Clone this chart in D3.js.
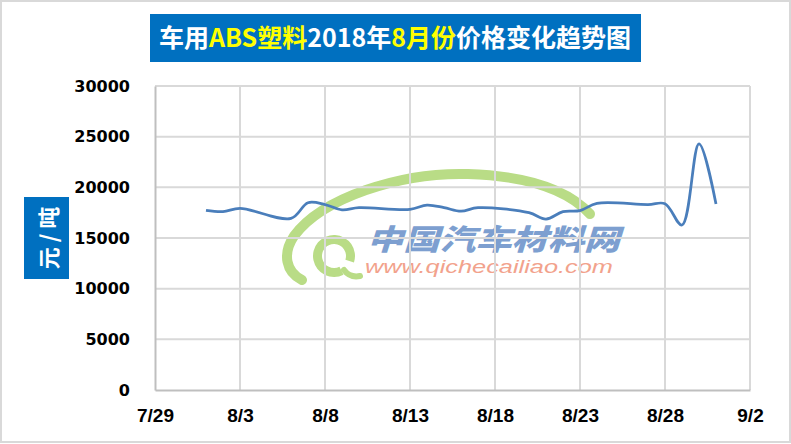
<!DOCTYPE html>
<html>
<head>
<meta charset="utf-8">
<script src="https://cdn.jsdelivr.net/npm/d3@7"></script>
<style>
  html, body { margin: 0; padding: 0; background: #ffffff; }
  svg { display: block; }
</style>
</head>
<body>
<svg id="chart" width="791" height="444"></svg>
<script>
// ---- data ----
const dates = ["2018-08-01","2018-08-02","2018-08-03","2018-08-06","2018-08-07","2018-08-08","2018-08-09","2018-08-10",
  "2018-08-13","2018-08-14","2018-08-15","2018-08-16","2018-08-17","2018-08-20","2018-08-21","2018-08-22",
  "2018-08-23","2018-08-24","2018-08-27","2018-08-28","2018-08-29","2018-08-30","2018-08-31"];
const prices = [17730,17600,17930,16940,18480,18300,17780,17990,
  17830,18250,18000,17640,17990,17500,16870,17600,
  17700,18420,18300,18380,16280,24300,18350];
const xTickDates = ["2018-07-29","2018-08-03","2018-08-08","2018-08-13","2018-08-18","2018-08-23","2018-08-28","2018-09-02"];
const yTicks = [0,5000,10000,15000,20000,25000,30000];
const titleParts = [
  {text: "车用", color: "#ffffff"},
  {text: "ABS塑料", color: "#ffff00"},
  {text: "2018年", color: "#ffffff"},
  {text: "8月份", color: "#ffff00"},
  {text: "价格变化趋势图", color: "#ffffff"}
];
const yAxisTitle = "元 / 吨";
const watermarkName = "中国汽车材料网";
const watermarkUrl = "www.qichecailiao.com";

// ---- layout ----
const W = 791, H = 444;
const plot = {left: 155, right: 750, top: 86, bottom: 390};
const parse = d3.timeParse("%Y-%m-%d");
const svg = d3.select("#chart");

// outer border
svg.append("rect").attr("x", 1).attr("y", 1).attr("width", W - 2).attr("height", H - 3)
  .attr("fill", "#ffffff").attr("stroke", "#d9d9d9").attr("stroke-width", 2);

const x = d3.scaleTime()
  .domain([parse(xTickDates[0]), parse(xTickDates[xTickDates.length - 1])])
  .range([plot.left, plot.right]);
const y = d3.scaleLinear().domain([0, 30000]).range([plot.bottom, plot.top]);

// ---- watermark (logo decoration) ----
const green = "#b9dc86";
const wm = svg.append("g");
wm.append("path")
  .attr("d", "M 590 214 C 568 190, 528 176, 468 174 C 400 172, 322 198, 294 236 C 282 254, 286 272, 302 280")
  .attr("fill", "none").attr("stroke", green).attr("stroke-width", 10).attr("stroke-linecap", "round");
wm.append("path")
  .attr("d", d3.arc().innerRadius(12).outerRadius(21)({startAngle: Math.PI * 0.85, endAngle: Math.PI * 2.6}))
  .attr("transform", "translate(334,256)")
  .attr("fill", green);
wm.append("path")
  .attr("d", "M 344 270 Q 350 278, 360 276")
  .attr("fill", "none").attr("stroke", green).attr("stroke-width", 6).attr("stroke-linecap", "round");
wm.append("text")
  .attr("x", 367).attr("y", 250)
  .attr("textLength", 253).attr("lengthAdjust", "spacingAndGlyphs")
  .attr("font-family", "'Noto Sans CJK SC', sans-serif").attr("font-weight", 900)
  .attr("font-size", 29).attr("font-style", "italic")
  .attr("fill", "#7d9fd0").text(watermarkName);
wm.append("text")
  .attr("x", 365).attr("y", 273)
  .attr("textLength", 248).attr("lengthAdjust", "spacingAndGlyphs")
  .attr("font-family", "'Liberation Sans', Arial, sans-serif").attr("font-style", "italic")
  .attr("font-size", 19)
  .attr("fill", "#f2a28c").text(watermarkUrl);

// ---- gridlines ----
const grid = svg.append("g");
grid.selectAll("line.h").data(yTicks.filter(v => v > 0)).join("line")
  .attr("x1", plot.left).attr("x2", plot.right)
  .attr("y1", d => y(d)).attr("y2", d => y(d))
  .attr("stroke", "#d9d9d9").attr("stroke-width", 2);
grid.selectAll("line.v").data(xTickDates.slice(1).map(parse)).join("line")
  .attr("x1", d => x(d)).attr("x2", d => x(d))
  .attr("y1", plot.top).attr("y2", plot.bottom)
  .attr("stroke", "#d9d9d9").attr("stroke-width", 2);

// ---- axes ----
const xAxis = d3.axisBottom(x)
  .tickValues(xTickDates.map(parse))
  .tickFormat(d => (d.getMonth() + 1) + "/" + d.getDate())
  .tickSize(0).tickPadding(19);
const gx = svg.append("g").attr("transform", `translate(0,${plot.bottom})`).call(xAxis);
gx.select(".domain").attr("stroke", "#bfbfbf").attr("stroke-width", 2);
gx.selectAll("text").attr("font-family", "'Liberation Sans', Arial, sans-serif")
  .attr("font-weight", "bold").attr("font-size", 19).attr("fill", "#000");

const yAxis = d3.axisLeft(y).tickValues(yTicks).tickFormat(d3.format("d")).tickSize(0).tickPadding(25);
const gy = svg.append("g").attr("transform", `translate(${plot.left},0)`).call(yAxis);
gy.select(".domain").attr("stroke", "#bfbfbf").attr("stroke-width", 2);
gy.selectAll("text").attr("font-family", "'DejaVu Sans', sans-serif")
  .attr("font-weight", "bold").attr("font-size", 16).attr("fill", "#000");

// ---- line ----
const series = dates.map((d, i) => ({date: parse(d), value: prices[i]}));
const line = d3.line().x(d => x(d.date)).y(d => y(d.value)).curve(d3.curveCatmullRom.alpha(0.5));
svg.append("path").datum(series)
  .attr("d", line).attr("fill", "none")
  .attr("stroke", "#4a7ebb").attr("stroke-width", 2.75).attr("stroke-linejoin", "round");

// ---- title ----
svg.append("rect").attr("x", 150).attr("y", 14).attr("width", 491).attr("height", 48).attr("fill", "#0070c0");
const title = svg.append("text")
  .attr("x", 395).attr("y", 47).attr("text-anchor", "middle")
  .attr("font-family", "'Noto Sans CJK SC', sans-serif").attr("font-weight", "bold").attr("font-size", 25);
title.selectAll("tspan").data(titleParts).join("tspan")
  .attr("fill", d => d.color).text(d => d.text);

// ---- y axis title ----
svg.append("rect").attr("x", 24).attr("y", 197).attr("width", 45).attr("height", 82).attr("fill", "#0070c0");
svg.append("text")
  .attr("transform", "translate(47,238) rotate(-90)")
  .attr("text-anchor", "middle").attr("dominant-baseline", "central")
  .attr("font-family", "'Noto Sans CJK SC', sans-serif").attr("font-weight", "bold").attr("font-size", 22)
  .attr("fill", "#ffffff").text(yAxisTitle);
</script>
</body>
</html>
